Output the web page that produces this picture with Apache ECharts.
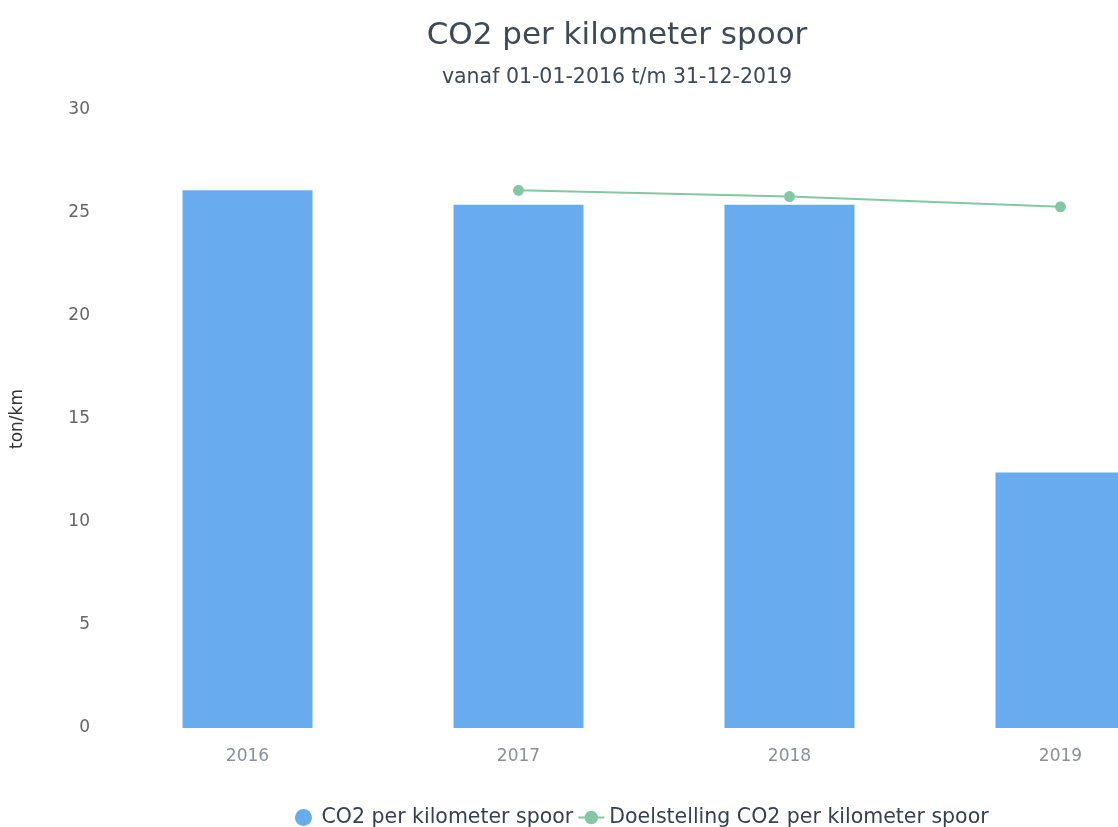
<!DOCTYPE html>
<html>
<head>
<meta charset="utf-8">
<script src="https://cdn.jsdelivr.net/npm/echarts@6/dist/echarts.min.js"></script>
<style>
  html, body { margin: 0; padding: 0; background: #fff; overflow: hidden; }
  /* the original is cropped on the right: the plot runs past the window edge */
  #chart { width: 1196px; height: 827px; }
</style>
</head>
<body>
<div id="chart"></div>
<script>
// jaren op de x-as
var years = ["2016", "2017", "2018", "2019"];
// gemeten CO2 per km spoor (ton/km)
var co2Values = [26.1, 25.4, 25.4, 12.4];
// doelstelling, pas vanaf 2017
var targetValues = [null, 26.1, 25.8, 25.3];
var yTicks = [0, 5, 10, 15, 20, 25, 30];

var myChart = echarts.init(document.getElementById("chart"));
myChart.setOption({
  textStyle: { fontFamily: "DejaVu Sans" },
  title: {
    text: "CO2 per kilometer spoor",
    subtext: "vanaf 01-01-2016 t/m 31-12-2019",
    left: 612,
    textAlign: "center",
    top: 15,
    itemGap: 16,
    textStyle: { fontSize: 31, fontWeight: "normal", color: "#3e4a56" },
    subtextStyle: { fontSize: 20.5, color: "#3e4a56" }
  },
  grid: {
    left: 112,
    right: 0,
    top: 110,
    bottom: 99
  },
  legend: {
    top: 802,
    left: 290,
    itemGap: 4,
    itemWidth: 26,
    itemHeight: 17,
    textStyle: { fontSize: 20.5, color: "#37414d" },
    data: [
      { name: "CO2 per kilometer spoor", icon: "circle" },
      { name: "Doelstelling CO2 per kilometer spoor" }
    ]
  },
  xAxis: {
    type: "category",
    data: years,
    axisLine: { show: false },
    axisTick: { show: false },
    axisLabel: { color: "#8a8f99", fontSize: 17, margin: 20 }
  },
  yAxis: {
    type: "value",
    name: "ton/km",
    nameLocation: "middle",
    nameGap: 86,
    nameTextStyle: { fontSize: 17, color: "#333" },
    min: yTicks[0],
    max: yTicks[yTicks.length - 1],
    interval: 5,
    axisLine: { show: false },
    axisTick: { show: false },
    splitLine: { show: false },
    axisLabel: { color: "#666", fontSize: 17, margin: 22 }
  },
  series: [
    {
      name: "CO2 per kilometer spoor",
      type: "bar",
      data: co2Values,
      barWidth: 130,
      itemStyle: { color: "#68abee" }
    },
    {
      name: "Doelstelling CO2 per kilometer spoor",
      type: "line",
      data: targetValues,
      symbol: "circle",
      symbolSize: 11,
      itemStyle: { color: "#84c7a2" },
      lineStyle: { color: "#84c7a2", width: 2 }
    }
  ]
});
</script>
</body>
</html>
